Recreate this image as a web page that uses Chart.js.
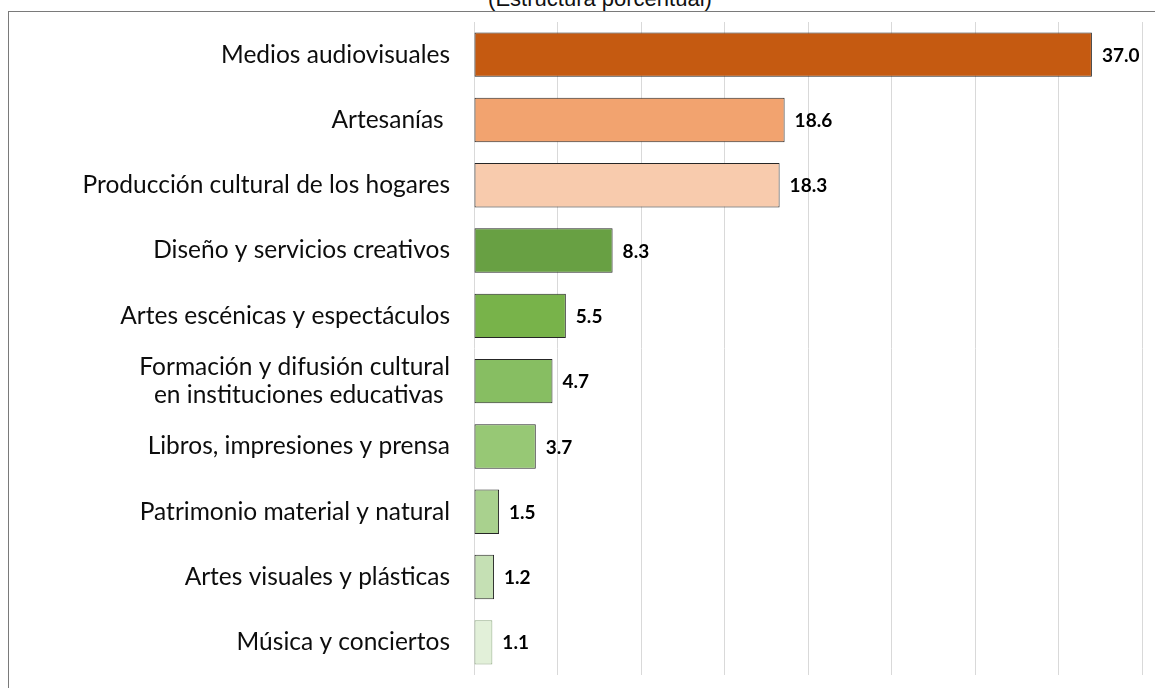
<!DOCTYPE html>
<html>
<head>
<meta charset="utf-8">
<script src="https://cdn.jsdelivr.net/npm/chart.js@4/dist/chart.umd.min.js"></script>
<style>
  html, body { margin: 0; padding: 0; background: #fff; overflow: hidden; }
  #wrap { position: relative; width: 1155px; height: 688px; }
  #frame { position: absolute; left: 8px; top: 11px; width: 1300px; height: 1000px;
           border-top: 1px solid #7a7a7a; border-left: 1px solid #7a7a7a; }
  #title { position: absolute; left: 0; width: 1200px; top: -12px; line-height: 22px; text-align: center;
           font-family: "Liberation Sans", Arial, sans-serif; font-size: 22px; color: #111; }
  #c { position: absolute; left: 0; top: 0; }
</style>
</head>
<body>
<div id="wrap">
  <div id="title">(Estructura porcentual)</div>
  <div id="frame"></div>
  <canvas id="c" width="1155" height="688"></canvas>
</div>
<script>
// categories, top to bottom
const categories = [
  'Medios audiovisuales',
  'Artesanías ',
  'Producción cultural de los hogares',
  'Diseño y servicios creativos',
  'Artes escénicas y espectáculos',
  ['Formación y difusión cultural', 'en instituciones educativas '],
  'Libros, impresiones y prensa',
  'Patrimonio material y natural',
  'Artes visuales y plásticas',
  'Música y conciertos'
];
const values = [37.0, 18.6, 18.3, 8.3, 5.5, 4.7, 3.7, 1.5, 1.2, 1.1];
const barColors = ['#C55A11', '#F2A36F', '#F8CBAD', '#68A043', '#78B34A',
                   '#87BE62', '#97C875', '#A9D18E', '#C5E0B4', '#E2F0D9'];
const edgeColors = ['#262626', '#262626', '#262626', '#262626', '#262626',
                    '#262626', '#262626', '#262626', '#262626', '#8FA882'];
const xTicks = { min: 0, max: 40, step: 5 };

// value labels at the end of each bar
const barLabels = {
  id: 'barLabels',
  afterDatasetsDraw(chart) {
    const ctx = chart.ctx;
    const meta = chart.getDatasetMeta(0);
    ctx.save();
    ctx.font = 'bold 19px Lato, "Open Sans", sans-serif';
    ctx.fillStyle = '#000';
    ctx.textAlign = 'left';
    ctx.textBaseline = 'middle';
    meta.data.forEach((bar, i) => {
      ctx.fillText(values[i].toFixed(1), bar.x + 10, bar.y + 1);
    });
    ctx.restore();
  }
};

new Chart(document.getElementById('c').getContext('2d'), {
  type: 'bar',
  data: {
    labels: categories,
    datasets: [{
      data: values,
      backgroundColor: barColors,
      borderColor: edgeColors,
      borderWidth: 1,
      borderSkipped: false,
      barPercentage: 0.68,
      categoryPercentage: 1
    }]
  },
  options: {
    indexAxis: 'y',
    responsive: false,
    animation: false,
    layout: { padding: { top: 22, bottom: 13, right: 13, left: 0 } },
    plugins: { legend: { display: false }, tooltip: { enabled: false } },
    scales: {
      x: {
        min: xTicks.min, max: xTicks.max,
        ticks: { display: false, stepSize: xTicks.step },
        grid: { color: '#d9d9d9', drawTicks: false },
        border: { display: false },
        afterFit(scale) { scale.height = 0; scale.paddingLeft = 0; scale.paddingRight = 0; }
      },
      y: {
        ticks: {
          color: '#0d0d0d',
          padding: 24,
          font: { family: 'Lato, "Open Sans", sans-serif', size: 24.5, lineHeight: 1.15 }
        },
        grid: { display: false, drawTicks: false },
        border: { display: false },
        afterFit(scale) { scale.width = 474; scale.paddingTop = 0; scale.paddingBottom = 0; }
      }
    }
  },
  plugins: [barLabels]
});
</script>
</body>
</html>
